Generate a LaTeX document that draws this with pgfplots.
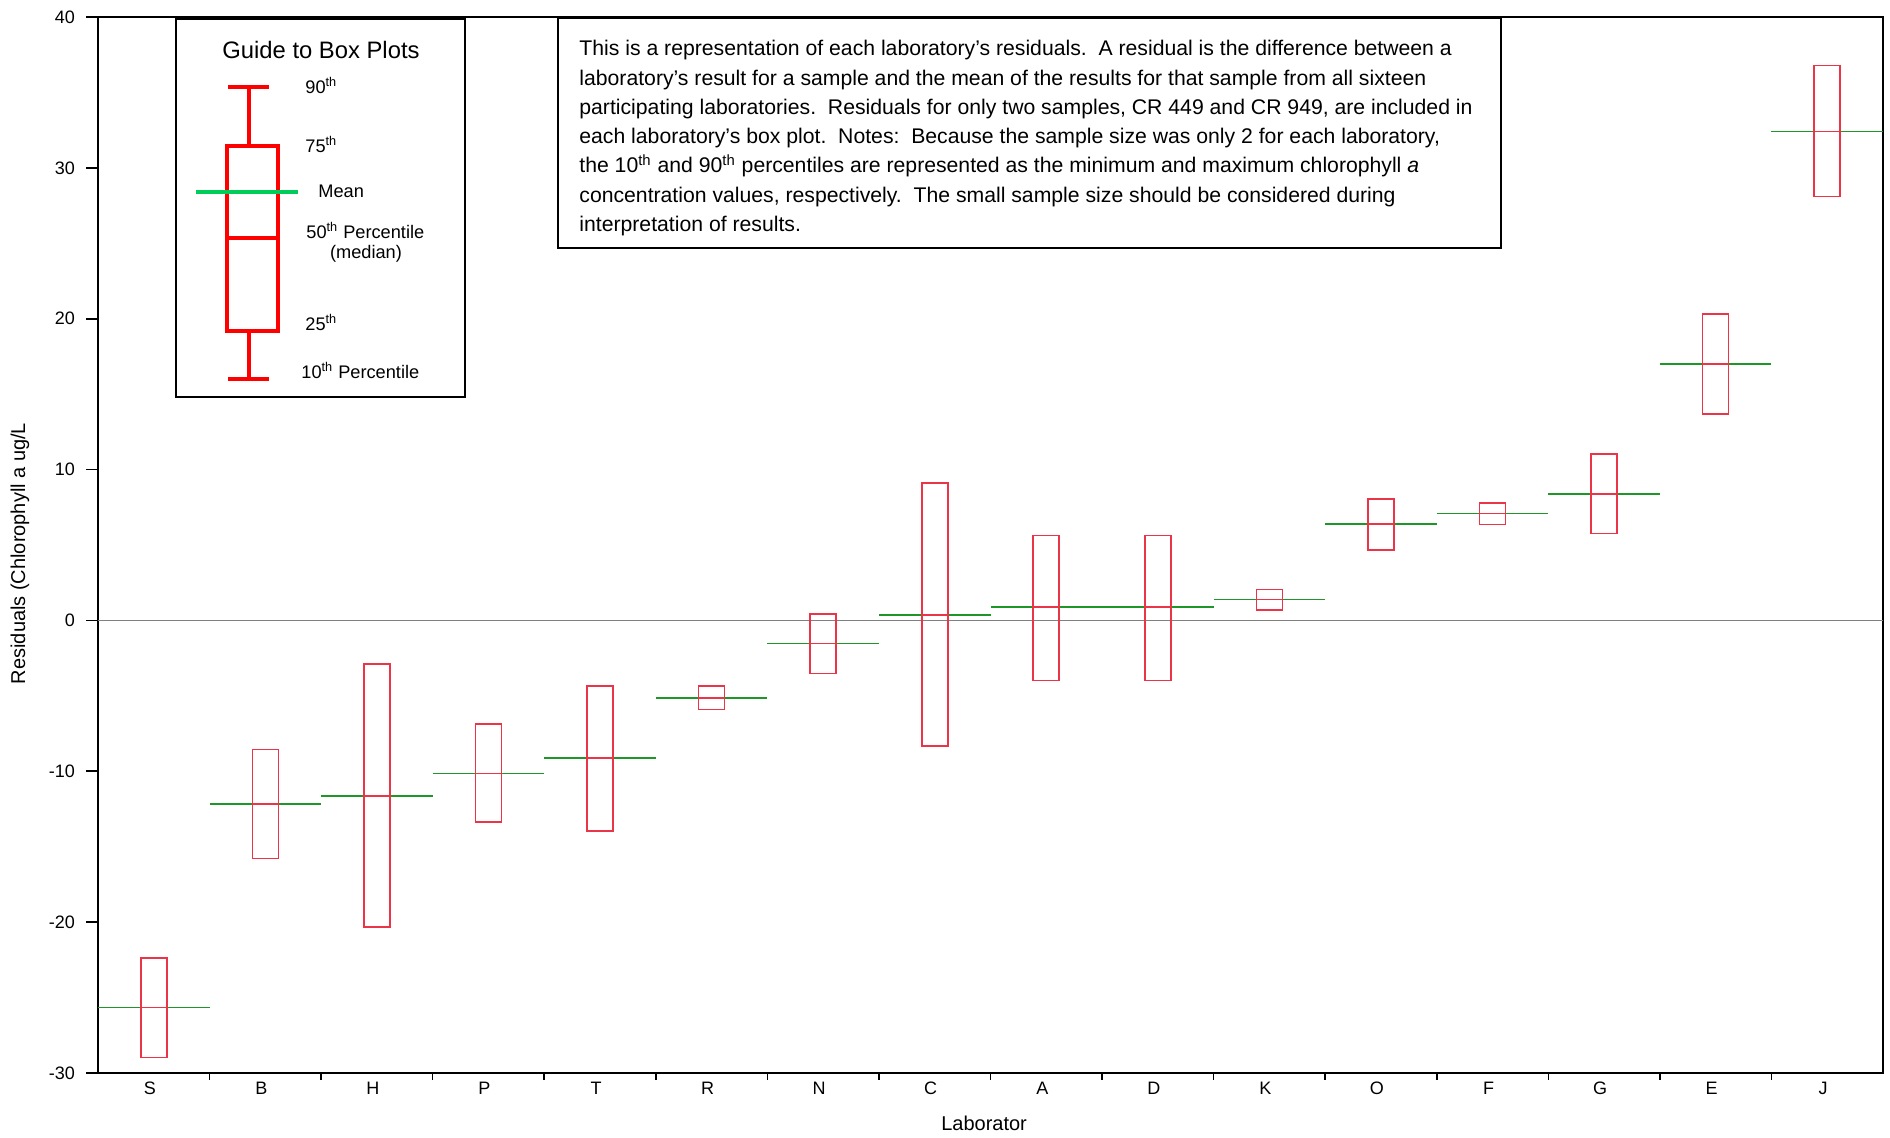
\documentclass[border=0pt]{standalone}
\usepackage{fontspec}
\setmainfont{Liberation Sans}
\usepackage{pgfplots}
\usepgfplotslibrary{statistics}
\pgfplotsset{compat=1.18}
\definecolor{boxred}{RGB}{236,52,72}
\definecolor{meangreen}{RGB}{30,150,40}
\definecolor{guidegreen}{RGB}{0,204,90}
\begin{document}
\begin{tikzpicture}
\useasboundingbox (-49pt,-32pt) rectangle (896pt,536.5pt);
\begin{axis}[
  at={(0pt,0pt)}, anchor=south west,
  scale only axis, width=892.5pt, height=528pt,
  xmin=0.5, xmax=16.5, ymin=-30, ymax=40,
  xtick={1,...,16},
  xticklabels={S,B,H,P,T,R,N,C,A,D,K,O,F,G,E,J},
  minor xtick={1.5,2.5,...,15.5},
  ytick={-30,-20,...,40},
  tick align=outside, xtick pos=left, ytick pos=left,
  major x tick style={draw=none},
  major tick length=6pt, minor tick length=3.5pt,
  axis line style={line width=1pt},
  tick style={black, line width=0.8pt},
  /pgf/number format/assume math mode=true,
  ticklabel style={font=\fontsize{9}{10}\selectfont},
  xticklabel style={yshift=5pt, xshift=-2pt},
  yticklabel style={xshift=-2pt},
  xlabel={Laborator}, ylabel={Residuals (Chlorophyll a ug/L},
  xlabel style={font=\fontsize{9}{10}\selectfont},
  ylabel style={font=\fontsize{9.4}{10}\selectfont},
  every axis y label/.style={at={(axis description cs:-0.0437,0.492)}, rotate=90, anchor=center},
  every axis x label/.style={at={(axis description cs:0.4964,-0.0473)}, anchor=center},
  boxplot/draw direction=y,
  boxplot/box extend=0.233, boxplot/whisker extend=0,
  boxplot/every box/.style={draw=boxred, line width=0.8pt, solid},
  boxplot/every median/.style={draw=boxred, line width=0.8pt, solid},
  boxplot/every whisker/.style={draw=boxred, line width=0.8pt, solid},
]
% zero line
\addplot[gray, line width=0.6pt] coordinates {(0.5,0) (16.5,0)};
% means (span each category)
\addplot[meangreen, line width=0.75pt, unbounded coords=jump] coordinates {
 (0.5,-25.66) (1.5,-25.66) (1.5,nan)
 (1.5,-12.16) (2.5,-12.16) (2.5,nan)
 (2.5,-11.63) (3.5,-11.63) (3.5,nan)
 (3.5,-10.15) (4.5,-10.15) (4.5,nan)
 (4.5,-9.13) (5.5,-9.13) (5.5,nan)
 (5.5,-5.13) (6.5,-5.13) (6.5,nan)
 (6.5,-1.53) (7.5,-1.53) (7.5,nan)
 (7.5,0.37) (8.5,0.37) (8.5,nan)
 (8.5,0.88) (9.5,0.88) (9.5,nan)
 (9.5,0.90) (10.5,0.90) (10.5,nan)
 (10.5,1.39) (11.5,1.39) (11.5,nan)
 (11.5,6.38) (12.5,6.38) (12.5,nan)
 (12.5,7.09) (13.5,7.09) (13.5,nan)
 (13.5,8.39) (14.5,8.39) (14.5,nan)
 (14.5,17.01) (15.5,17.01) (15.5,nan)
 (15.5,32.41) (16.5,32.41)
};
\addplot[boxred, line width=0.8pt, boxplot prepared={draw position=1, lower whisker=-28.97, lower quartile=-28.97, median=-25.66, upper quartile=-22.39, upper whisker=-22.39}] coordinates {};
\addplot[boxred, line width=0.8pt, boxplot prepared={draw position=2, lower whisker=-15.78, lower quartile=-15.78, median=-12.16, upper quartile=-8.56, upper whisker=-8.56}] coordinates {};
\addplot[boxred, line width=0.8pt, boxplot prepared={draw position=3, lower whisker=-20.33, lower quartile=-20.33, median=-11.63, upper quartile=-2.90, upper whisker=-2.90}] coordinates {};
\addplot[boxred, line width=0.8pt, boxplot prepared={draw position=4, lower whisker=-13.37, lower quartile=-13.37, median=-10.15, upper quartile=-6.88, upper whisker=-6.88}] coordinates {};
\addplot[boxred, line width=0.8pt, boxplot prepared={draw position=5, lower whisker=-13.97, lower quartile=-13.97, median=-9.13, upper quartile=-4.34, upper whisker=-4.34}] coordinates {};
\addplot[boxred, line width=0.8pt, boxplot prepared={draw position=6, lower whisker=-5.90, lower quartile=-5.90, median=-5.13, upper quartile=-4.34, upper whisker=-4.34}] coordinates {};
\addplot[boxred, line width=0.8pt, boxplot prepared={draw position=7, lower whisker=-3.52, lower quartile=-3.52, median=-1.53, upper quartile=0.44, upper whisker=0.44}] coordinates {};
\addplot[boxred, line width=0.8pt, boxplot prepared={draw position=8, lower whisker=-8.31, lower quartile=-8.31, median=0.37, upper quartile=9.12, upper whisker=9.12}] coordinates {};
\addplot[boxred, line width=0.8pt, boxplot prepared={draw position=9, lower whisker=-3.98, lower quartile=-3.98, median=0.88, upper quartile=5.63, upper whisker=5.63}] coordinates {};
\addplot[boxred, line width=0.8pt, boxplot prepared={draw position=10, lower whisker=-3.98, lower quartile=-3.98, median=0.90, upper quartile=5.63, upper whisker=5.63}] coordinates {};
\addplot[boxred, line width=0.8pt, boxplot prepared={draw position=11, lower whisker=0.70, lower quartile=0.70, median=1.39, upper quartile=2.05, upper whisker=2.05}] coordinates {};
\addplot[boxred, line width=0.8pt, boxplot prepared={draw position=12, lower whisker=4.66, lower quartile=4.66, median=6.38, upper quartile=8.04, upper whisker=8.04}] coordinates {};
\addplot[boxred, line width=0.8pt, boxplot prepared={draw position=13, lower whisker=6.36, lower quartile=6.36, median=7.09, upper quartile=7.80, upper whisker=7.80}] coordinates {};
\addplot[boxred, line width=0.8pt, boxplot prepared={draw position=14, lower whisker=5.76, lower quartile=5.76, median=8.39, upper quartile=11.04, upper whisker=11.04}] coordinates {};
\addplot[boxred, line width=0.8pt, boxplot prepared={draw position=15, lower whisker=13.68, lower quartile=13.68, median=17.01, upper quartile=20.30, upper whisker=20.30}] coordinates {};
\addplot[boxred, line width=0.8pt, boxplot prepared={draw position=16, lower whisker=28.10, lower quartile=28.10, median=32.41, upper quartile=36.78, upper whisker=36.78}] coordinates {};
\end{axis}
% annotations, in pixel units of the reference
\begin{scope}[x=0.5pt, y=-0.5pt, xshift=-49pt, yshift=536.5pt]
 % guide to box plots
 \draw[line width=1pt, fill=white] (176,19) rectangle (465,397);
 \node[font=\fontsize{11.9}{13}\selectfont] at (321,50) {Guide to Box Plots};
 \draw[red, line width=2pt] (228,87) -- (269,87);
 \draw[red, line width=2pt] (249,87) -- (249,146);
 \draw[red, line width=2pt] (227,146) rectangle (278,331);
 \draw[red, line width=2pt] (227,238) -- (278,238);
 \draw[red, line width=2pt] (249,331) -- (249,379);
 \draw[red, line width=2pt] (228,379) -- (269,379);
 \draw[guidegreen, line width=1.8pt] (196,192) -- (298,192);
 \begin{scope}[every node/.style={font=\fontsize{9.1}{10}\selectfont, inner sep=0pt}]
 \node[anchor=base west] at (305,94) {90\textsuperscript{th}};
 \node[anchor=base west] at (305,153) {75\textsuperscript{th}};
 \node[anchor=base west] at (318,198) {Mean};
 \node[anchor=base west] at (306,239) {50\textsuperscript{th} Percentile};
 \node[anchor=base] at (366,259) {(median)};
 \node[anchor=base west] at (305,331) {25\textsuperscript{th}};
 \node[anchor=base west] at (301,379) {10\textsuperscript{th} Percentile};
 \end{scope}
 % explanatory text
 \draw[line width=1pt, fill=white] (558,18) rectangle (1501,248);
 \node[anchor=north west, inner sep=0pt, align=left, font=\fontsize{10.6}{14.65}\selectfont] at (579,40) {%
 This is a representation of each laboratory’s residuals.\ \ A residual is the difference between a\\
 laboratory’s result for a sample and the mean of the results for that sample from all sixteen\\
 participating laboratories.\ \ Residuals for only two samples, CR 449 and CR 949, are included in\\
 each laboratory’s box plot.\ \ Notes:\ \ Because the sample size was only 2 for each laboratory,\\
 the 10\textsuperscript{th} and 90\textsuperscript{th} percentiles are represented as the minimum and maximum chlorophyll \textit{a}\\
 concentration values, respectively.\ \ The small sample size should be considered during\\
 interpretation of results.};
\end{scope}
\end{tikzpicture}
\end{document}
